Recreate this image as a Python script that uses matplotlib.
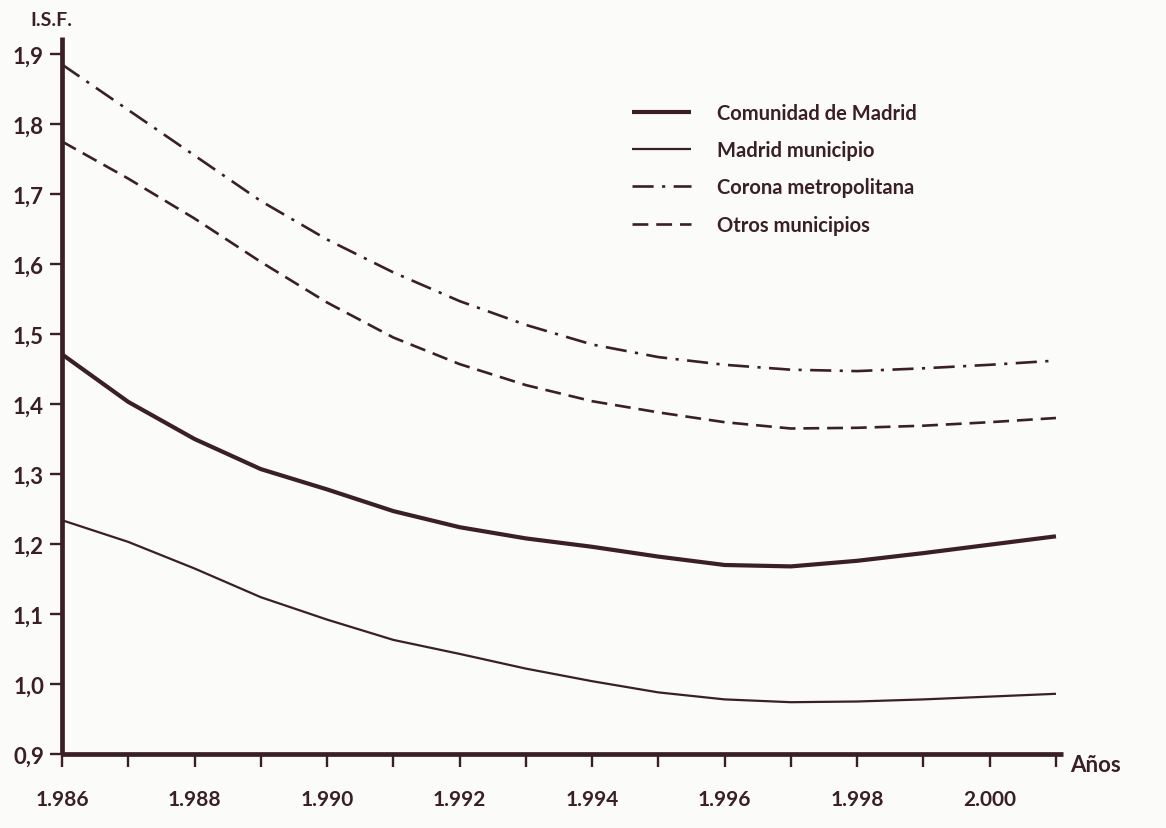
import matplotlib
matplotlib.use("Agg")
import matplotlib.pyplot as plt
from matplotlib.ticker import FixedLocator, FixedFormatter

# ---- data ----
years = list(range(1986, 2002))
comunidad = [1.471, 1.403, 1.350, 1.307, 1.278, 1.247, 1.224, 1.208,
             1.196, 1.182, 1.170, 1.168, 1.176, 1.187, 1.199, 1.211]
madrid_mun = [1.234, 1.203, 1.165, 1.124, 1.092, 1.063, 1.043, 1.022,
              1.004, 0.988, 0.978, 0.974, 0.975, 0.978, 0.982, 0.986]
corona = [1.885, 1.820, 1.755, 1.690, 1.635, 1.588, 1.547, 1.513,
          1.485, 1.467, 1.456, 1.449, 1.447, 1.451, 1.456, 1.462]
otros = [1.775, 1.722, 1.665, 1.603, 1.545, 1.495, 1.457, 1.427,
         1.404, 1.388, 1.374, 1.365, 1.366, 1.369, 1.374, 1.380]

series_labels = ["Comunidad de Madrid", "Madrid municipio",
                 "Corona metropolitana", "Otros municipios"]
x_label_years = [1986, 1988, 1990, 1992, 1994, 1996, 1998, 2000]
x_tick_labels = ["1.986", "1.988", "1.990", "1.992", "1.994", "1.996",
                 "1.998", "2.000"]
y_ticks = [0.9, 1.0, 1.1, 1.2, 1.3, 1.4, 1.5, 1.6, 1.7, 1.8, 1.9]
y_tick_labels = ["0,9", "1,0", "1,1", "1,2", "1,3", "1,4", "1,5", "1,6",
                 "1,7", "1,8", "1,9"]

INK = "#3a1f26"
BG = "#fbfbf9"
plt.rcParams["font.family"] = ["Lato", "DejaVu Sans"]
plt.rcParams["font.weight"] = "bold"

W, H = 1166, 829
fig = plt.figure(figsize=(W / 100, H / 100), dpi=100, facecolor=BG)
left_px, bottom_px, right_px, top_px = 62, 755, 1062.6, 37.5
ax = fig.add_axes([left_px / W, (H - bottom_px) / H,
                   (right_px - left_px) / W, (bottom_px - top_px) / H])
ax.set_facecolor(BG)

ax.plot(years, comunidad, color=INK, lw=3.0, solid_capstyle="butt",
        label=series_labels[0])
ax.plot(years, madrid_mun, color=INK, lw=1.6, solid_capstyle="butt",
        label=series_labels[1])
ax.plot(years, corona, color=INK, lw=1.9, linestyle=(0, (8, 3.2, 1.2, 3.2)),
        dash_capstyle="butt", label=series_labels[2])
ax.plot(years, otros, color=INK, lw=1.9, linestyle=(0, (6, 3)),
        dash_capstyle="butt", label=series_labels[3])

ax.set_xlim(1986, 2001.1)
ax.set_ylim(0.9, 1.925)

for s in ["top", "right"]:
    ax.spines[s].set_visible(False)
for s in ["left", "bottom"]:
    ax.spines[s].set_linewidth(3.4)
    ax.spines[s].set_color(INK)
    ax.spines[s].set_capstyle("butt")

ax.xaxis.set_major_locator(FixedLocator(x_label_years))
ax.xaxis.set_major_formatter(FixedFormatter(x_tick_labels))
ax.xaxis.set_minor_locator(FixedLocator(years))
ax.yaxis.set_major_locator(FixedLocator(y_ticks))
ax.yaxis.set_major_formatter(FixedFormatter(y_tick_labels))

ax.tick_params(axis="x", which="both", direction="out", length=9, width=1.7,
               color=INK, labelsize=15, labelcolor=INK, pad=16)
ax.tick_params(axis="y", which="major", direction="out", length=9, width=1.7,
               color=INK, labelsize=16, labelcolor=INK, pad=4)

ax.legend(loc="upper left", bbox_to_anchor=(0.57, 0.907), frameon=False,
          handlelength=2.9, handletextpad=1.3,
          labelspacing=0.85, borderpad=0, borderaxespad=0,
          labelcolor=INK, prop={"weight": "bold", "size": 14.5})

fig.text(30 / W, 1 - 20 / H, "I.S.F.", fontsize=14, color=INK,
         ha="left", va="center", fontweight="bold")
ax.text(1.008, 0.0, "Años", transform=ax.transAxes, fontsize=16,
        color=INK, ha="left", va="top", fontweight="bold")

fig.savefig("out.png", dpi=100, facecolor=BG)
